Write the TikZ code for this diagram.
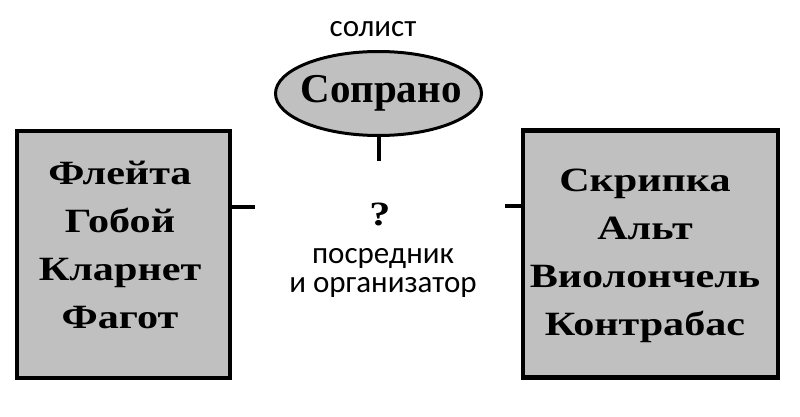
\documentclass[tikz,border=0pt]{standalone}
\usepackage{fontspec}
\setmainfont{Liberation Serif}
\newfontfamily\boxfont[FakeStretch=1.24]{Liberation Serif}
\newfontfamily\labfont{Carlito}
\usetikzlibrary{shapes.geometric}
\definecolor{boxgray}{RGB}{192,192,192}
\tikzset{
  box/.style={draw=black, fill=boxgray, line width=4.5pt, minimum height=247pt, inner sep=0pt},
  boxtext/.style={align=center, font=\boxfont\bfseries\fontsize{34}{48}\selectfont, inner sep=0pt},
  oval/.style={ellipse, draw=black, fill=boxgray, line width=3pt, minimum width=206pt, minimum height=84pt, inner sep=0pt},
  ovaltext/.style={font=\rmfamily\bfseries\fontsize{41}{48}\selectfont, inner sep=0pt},
  lab/.style={font=\labfont\fontsize{31}{29}\selectfont, inner sep=0pt, align=center},
  stub/.style={line width=4pt}
}
\begin{document}
\begin{tikzpicture}[x=1pt,y=-1pt]
\useasboundingbox (0,0) rectangle (800,417);
\node[box, minimum width=213pt] (wood) at (123.5,254.5) {};
\node[box, minimum width=255pt] (strings) at (650.5,254) {};
\node[boxtext, anchor=base] (woodtxt) at (120,328) {Флейта\\Гобой\\Кларнет\\Фагот};
\node[boxtext, anchor=base] (strtxt) at (645,335) {Скрипка\\Альт\\Виолончель\\Контрабас};
\node[oval] (sop) at (378.5,93.5) {};
\node[ovaltext, anchor=base] (soptxt) at (381,103) {Сопрано};
\node[lab, anchor=base] (solo) at (373,37) {солист};
\node[font=\boxfont\bfseries\fontsize{34}{40}\selectfont, inner sep=0pt, anchor=base] (q) at (380,225) {?};
\node[lab, anchor=base] (med) at (383,292) {посредник\\и организатор};
\coordinate (wl) at (255,207);
\coordinate (sl) at (505,206);
\coordinate (ol) at (378.5,161);
\draw[stub] (wood.east |- wl) -- (wl);
\draw[stub] (sl) -- (strings.west |- sl);
\draw[stub] (sop.south) -- (ol);
\end{tikzpicture}
\end{document}
